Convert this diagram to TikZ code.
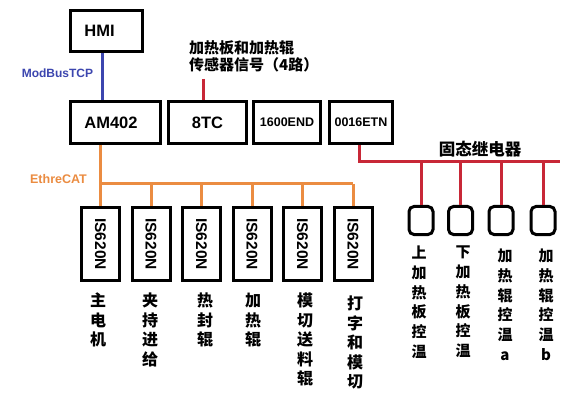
\documentclass[tikz,border=0pt]{standalone}
\usepackage{fontspec}
\setmainfont{Liberation Sans}
\newfontfamily\cjk{Noto Sans CJK SC}
\definecolor{bluec}{RGB}{60,70,175}
\definecolor{redc}{RGB}{200,40,55}
\definecolor{orc}{RGB}{235,140,65}
\begin{document}
\begin{tikzpicture}[x=1pt,y=-1pt,
  box/.style={draw,line width=3pt,minimum height=42pt,inner sep=0pt,font=\bfseries\fontsize{16.5}{18}\selectfont},
  smallbox/.style={box,font=\bfseries\fontsize{12.5}{14}\selectfont},
  servo/.style={draw,line width=3pt,minimum width=73pt,minimum height=38pt,inner sep=0pt,rotate=-90,font=\bfseries\fontsize{15.5}{16}\selectfont},
  relay/.style={draw,line width=3pt,rounded corners=5pt,minimum width=24pt,minimum height=28pt,inner sep=0pt},
  clab/.style={font=\cjk\bfseries\fontsize{16}{19.5}\selectfont,align=center,inner sep=0pt,anchor=north},
  rlab/.style={font=\cjk\bfseries\fontsize{15}{19.7}\selectfont,align=center,inner sep=0pt,anchor=north},
  conn/.style={line width=3pt}]
\fill[white] (0,0) rectangle (576,401);
\useasboundingbox (0,0) rectangle (576,401);
% top boxes
\node[box,minimum width=72pt,minimum height=41pt] (hmi) at (106.5,31) {\hspace*{-14pt}HMI};
\node[box,minimum width=90pt] (am) at (115.5,122.5) {\hspace*{-9pt}AM402};
\node[box,minimum width=78pt] (tc) at (207.5,122.5) {8TC};
\node[smallbox,minimum width=67pt] (nend) at (287,122.5) {1600END};
\node[smallbox,minimum width=63pt] (etn) at (361,122.5) {0016ETN};
% texts
\node[text=bluec,font=\bfseries\fontsize{12}{14}\selectfont,inner sep=0pt] (mb) at (57.5,73) {ModBusTCP};
\node[text=orc,font=\bfseries\fontsize{12.5}{14}\selectfont,inner sep=0pt] (ec) at (58.5,179) {EthreCAT};
\node[font=\cjk\bfseries\fontsize{15}{17}\selectfont,align=left,anchor=west,inner sep=0pt] (sigt) at (189,56.5) {加热板和加热辊\\传感器信号（4路）};
\node[font=\cjk\bfseries\fontsize{16.5}{18}\selectfont,inner sep=0pt] (ssr) at (480,149) {固态继电器};
% servo boxes
\foreach \i/\x in {1/100.5,2/151,3/201.5,4/252,5/302.5,6/353}
  \node[servo] (s\i) at (\x,244) {IS620N};
% servo labels
\node[clab] (l1) at (98,293) {主\\电\\机};
\node[clab] (l2) at (150,293) {夹\\持\\进\\给};
\node[clab] (l3) at (205,293) {热\\封\\辊};
\node[clab] (l4) at (253,293) {加\\热\\辊};
\node[clab] (l5) at (305,293) {模\\切\\送\\料\\辊};
\node[clab] (l6) at (355,296) {打\\字\\和\\模\\切};
% relays
\foreach \i/\x in {1/421,2/460.5,3/501,4/543}
  \node[relay] (r\i) at (\x,220.5) {};
\node[rlab] (q1) at (419,246) {上\\加\\热\\板\\控\\温};
\node[rlab] (q2) at (463,246) {下\\加\\热\\板\\控\\温};
\node[rlab] (q3) at (505,249) {加\\热\\辊\\控\\温\\a};
\node[rlab] (q4) at (546,249) {加\\热\\辊\\控\\温\\b};
% connectors
\coordinate (bx) at (102,0);
\draw[conn,bluec] (hmi.south -| bx) -- (am.north -| bx);
\coordinate (sig) at (203,79);
\draw[conn,redc] (sig) -- (tc.north -| sig);
\coordinate (obus) at (0,184);
\draw[conn,orc] (am.south -| s1.west) -- (s1.west);
\draw[conn,orc] (s1.west |- obus) -- (s6.west |- obus);
\foreach \i in {2,...,6}
  \draw[conn,orc] (s\i.west |- obus) -- (s\i.west);
\coordinate (ex) at (359,0);
\coordinate (rbus) at (0,162);
\coordinate (rend) at (560,162);
\draw[conn,redc] (etn.south -| ex) -- (ex |- rbus) -- (rend);
\foreach \i in {1,...,4}
  \draw[conn,redc] (r\i.north |- rbus) -- (r\i.north);
\end{tikzpicture}
\end{document}
